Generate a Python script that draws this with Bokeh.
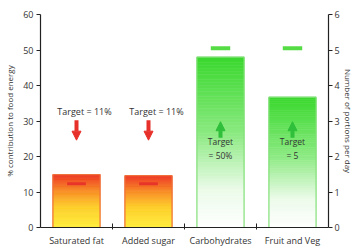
import numpy as np
from bokeh.plotting import figure
from bokeh.models import Range1d, LinearAxis, FixedTicker, Arrow, NormalHead
from bokeh.embed import file_html
from bokeh.resources import INLINE
from bokeh.core.properties import value

# ---- data ----
categories = ["Saturated fat", "Added sugar", "Carbohydrates", "Fruit and Veg"]
energy_pct = [14.9, 14.6, 48.0]          # % contribution to food energy (left axis)
portions_per_day = [3.67]                # Fruit and Veg, portions per day (right axis)
target_marks = [12.3, 12.3, 50.5, 5.05]  # short target bars
target_texts = ["Target = 11%", "Target = 11%", "Target\n= 50%", "Target\n= 5"]
left_ticks = [0, 10, 20, 30, 40, 50, 60]
right_ticks = [0, 1, 2, 3, 4, 5, 6]

FONT = "Open Sans"
xs = np.arange(len(categories)) + 0.5
BAR_W = 0.655

p = figure(width=356, height=249, output_backend="svg", toolbar_location=None,
           x_range=Range1d(0, 4), y_range=Range1d(0, 60))
p.extra_y_ranges = {"portions": Range1d(0, 6)}
p.min_border_top = 14
p.min_border_left = 40
p.min_border_right = 23
p.min_border_bottom = 18
p.outline_line_color = None
p.xgrid.visible = False
p.ygrid.visible = False
p.background_fill_color = "white"

def interp(stops, t):
    ts = [s[0] for s in stops]
    out = []
    for c in range(3):
        out.append(int(round(np.interp(t, ts, [s[1][c] for s in stops]))))
    return "#%02x%02x%02x" % tuple(out)

red_stops = [(0.0, (238, 52, 32)), (0.3, (248, 140, 36)), (0.6, (254, 205, 40)), (1.0, (255, 238, 58))]
green_stops = [(0.0, (58, 216, 46)), (0.45, (140, 234, 130)), (0.78, (236, 251, 234)), (1.0, (255, 255, 255))]

def gradient_bar(xc, top, stops, outline, range_name="default", n=60):
    edges = np.linspace(0, top, n + 1)
    mids = (edges[:-1] + edges[1:]) / 2
    cols = [interp(stops, 1 - m / top) for m in mids]
    p.quad(left=xc - BAR_W / 2, right=xc + BAR_W / 2, bottom=edges[:-1], top=edges[1:],
           fill_color=cols, line_color=cols, line_width=0.6, y_range_name=range_name)
    p.quad(left=xc - BAR_W / 2, right=xc + BAR_W / 2, bottom=0, top=top,
           fill_color=None, line_color=outline, line_width=1.2, y_range_name=range_name)

gradient_bar(xs[0], energy_pct[0], red_stops, "#f0703c")
gradient_bar(xs[1], energy_pct[1], red_stops, "#f0703c")
gradient_bar(xs[2], energy_pct[2], green_stops, "#84e07a")
gradient_bar(xs[3], portions_per_day[0], green_stops, "#84e07a", "portions")

# target marker bars
p.rect(x=xs[:2], y=target_marks[:2], width=0.26, height=3, height_units="screen",
       fill_color="#e8352a", line_color=None)
p.rect(x=[xs[2]], y=[target_marks[2]], width=0.27, height=4, height_units="screen",
       fill_color="#55dc44", line_color=None)
p.rect(x=[xs[3]], y=[target_marks[3]], width=0.27, height=4, height_units="screen",
       fill_color="#55dc44", line_color=None, y_range_name="portions")

# arrows
for i in range(2):
    p.add_layout(Arrow(end=NormalHead(size=9, fill_color="#e8302a", line_color="#e8302a"),
                       x_start=xs[i], y_start=30.2, x_end=xs[i], y_end=24.6,
                       line_color="#e8302a", line_width=4))
for i in range(2, 4):
    p.add_layout(Arrow(end=NormalHead(size=9, fill_color="#2fbf3a", line_color="#2fbf3a"),
                       x_start=xs[i], y_start=25.3, x_end=xs[i], y_end=29.8,
                       line_color="#2fbf3a", line_width=4))

# target texts
p.text(x=xs[:2], y=[32.6, 32.6], text=target_texts[:2], text_align="center",
       text_baseline="middle", text_font=value(FONT), text_font_size="9px",
       text_color="#333333", x_offset=8)
p.text(x=xs[2:], y=[22.2, 22.2], text=target_texts[2:], text_align="center",
       text_baseline="middle", text_font=value(FONT), text_font_size="8.5px",
       text_color="#333333", text_line_height=1.25)

def style_axis(ax):
    ax.axis_line_color = "#222222"
    ax.axis_line_width = 1.2
    ax.major_tick_line_color = "#222222"
    ax.major_tick_line_width = 1
    ax.minor_tick_line_color = "#222222"
    ax.major_label_text_font = FONT
    ax.major_label_text_font_size = "9px"
    ax.major_label_text_color = "#333333"
    ax.axis_label_text_font = FONT
    ax.axis_label_text_font_size = "8px"
    ax.axis_label_text_font_style = "normal"
    ax.axis_label_text_color = "#333333"

# left axis
ly = p.yaxis[0]
ly.ticker = FixedTicker(ticks=left_ticks, minor_ticks=[])
ly.axis_label = "% contribution to food energy"
ly.major_tick_in = 0
ly.major_tick_out = 4
ly.major_label_standoff = 3
ly.axis_label_standoff = 5
style_axis(ly)

# right axis
ry = LinearAxis(y_range_name="portions", ticker=FixedTicker(ticks=right_ticks, minor_ticks=[]),
                axis_label="Number of portions per day")
ry.major_tick_in = 0
ry.major_tick_out = 4
ry.major_label_standoff = 2
ry.axis_label_standoff = 0
style_axis(ry)
p.add_layout(ry, "right")

# x axis
xa = p.xaxis[0]
xa.ticker = FixedTicker(ticks=list(xs), minor_ticks=[1, 2, 3])
xa.major_label_overrides = {float(x): c for x, c in zip(xs, categories)}
xa.major_tick_in = 0
xa.major_tick_out = 0
xa.minor_tick_in = 4
xa.minor_tick_out = 2
xa.major_label_standoff = 4
style_axis(xa)

open("out.html", "w").write(file_html(p, INLINE))
